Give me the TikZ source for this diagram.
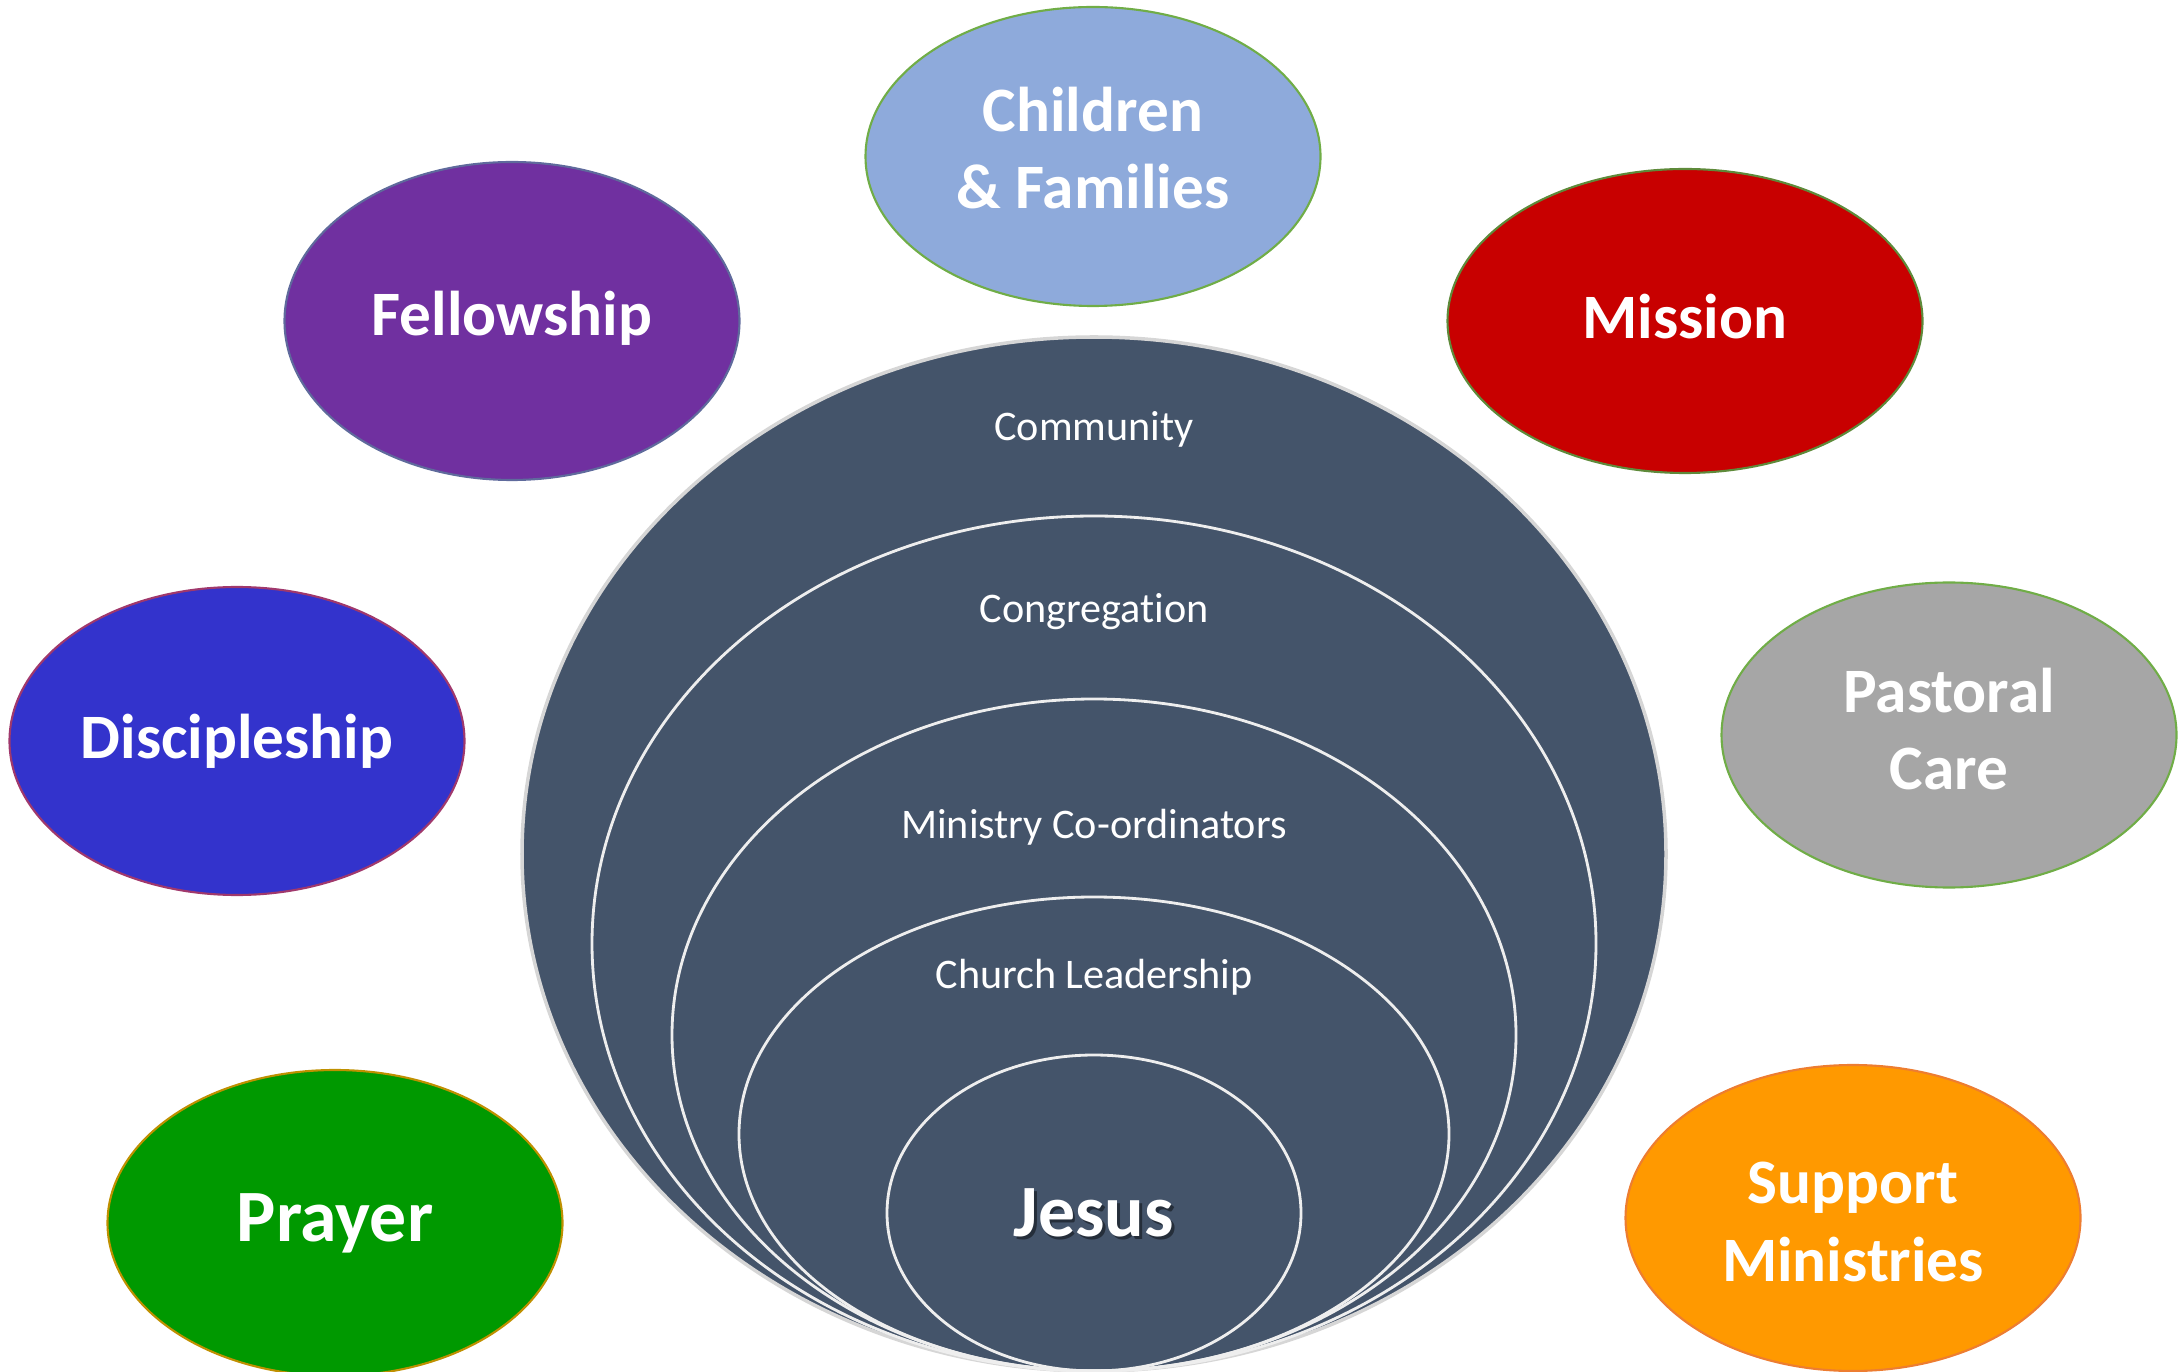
\documentclass[tikz,border=0pt]{standalone}
\usepackage{fontspec}
\setmainfont{Carlito}[Ligatures=NoCommon]
\usetikzlibrary{shapes.geometric}

\definecolor{slate}{HTML}{44546A}
\definecolor{ringline}{HTML}{EEEEEE}
\definecolor{rimline}{HTML}{D6D6D6}
\definecolor{childfill}{HTML}{8EAADB}
\definecolor{leafgreen}{HTML}{70AD47}
\definecolor{fellowfill}{HTML}{7030A0}
\definecolor{fellowline}{HTML}{5F6A9C}
\definecolor{missionfill}{HTML}{C80000}
\definecolor{missionline}{HTML}{5E8A3A}
\definecolor{discfill}{HTML}{3333CC}
\definecolor{discline}{HTML}{A0386C}
\definecolor{carefill}{HTML}{A6A6A6}
\definecolor{prayerfill}{HTML}{009900}
\definecolor{prayerline}{HTML}{BF9000}
\definecolor{supportfill}{HTML}{FF9900}
\definecolor{supportline}{HTML}{ED7D31}

\begin{document}
\begin{tikzpicture}[
    bubble/.style={ellipse, inner sep=0pt, minimum width=4.55cm, line width=0.6pt},
    tag/.style={text=white, align=center, font=\fontsize{18}{22}\selectfont\bfseries},
    ring/.style={draw=ringline, line width=0.8pt},
    layer/.style={text=white, font=\fontsize{12}{14}\selectfont}]
\useasboundingbox (0,0) rectangle (21.82,-13.72);

% stacked circles, all touching at the bottom
\fill[slate] (10.94,-8.54) ellipse [x radius=5.72, y radius=5.17];
\draw[rimline, line width=1pt] (10.94,-8.54) ellipse [x radius=5.72, y radius=5.17];
\draw[ring] (10.94,-9.435) ellipse [x radius=5.02, y radius=4.275];
\draw[ring] (10.94,-10.35) ellipse [x radius=4.22, y radius=3.36];
\draw[ring] (10.94,-11.34) ellipse [x radius=3.55, y radius=2.37];
\draw[ring] (10.94,-12.13) ellipse [x radius=2.07, y radius=1.58];

\node[layer] (community) at (10.94,-4.29) {Community};
\node[layer] (congregation) at (10.94,-6.12) {Congregation};
\node[layer] (coordinators) at (10.94,-8.27) {Ministry Co-ordinators};
\node[layer] (leadership) at (10.94,-9.77) {Church Leadership};
\node[text=black, opacity=0.45, font=\fontsize{21}{25}\selectfont\bfseries] (jesusshadow) at (10.965,-12.155) {Jesus};
\node[text=white, font=\fontsize{21}{25}\selectfont\bfseries] (jesus) at (10.94,-12.13) {Jesus};

% ministry areas round the outside
\node[bubble, fill=childfill, draw=leafgreen, minimum height=2.99cm] (children) at (10.93,-1.565) {};
\node[bubble, fill=fellowfill, draw=fellowline, minimum height=3.18cm] (fellowship) at (5.12,-3.21) {};
\node[bubble, fill=missionfill, draw=missionline, minimum width=4.75cm, minimum height=3.04cm] (mission) at (16.85,-3.21) {};
\node[bubble, fill=discfill, draw=discline, minimum height=3.08cm] (discipleship) at (2.37,-7.41) {};
\node[bubble, fill=carefill, draw=leafgreen, minimum height=3.05cm] (pastoral) at (19.49,-7.35) {};
\node[bubble, fill=prayerfill, draw=prayerline, minimum height=3.06cm] (prayer) at (3.35,-12.23) {};
\node[bubble, fill=supportfill, draw=supportline, minimum height=3.06cm] (support) at (18.53,-12.18) {};

\node[tag] (childrentag) at ([yshift=0.85mm]children) {Children\\\& Families};
\node[tag] (fellowshiptag) at ([yshift=0.3mm]fellowship) {Fellowship};
\node[tag] (missiontag) at ([yshift=0.4mm]mission) {Mission};
\node[tag] (discipleshiptag) at (discipleship) {Discipleship};
\node[tag] (pastoraltag) at ([yshift=0.6mm]pastoral) {Pastoral\\Care};
\node[tag, font=\fontsize{21}{25}\selectfont\bfseries] (prayertag) at (prayer) {Prayer};
\node[tag] (supporttag) at ([yshift=-0.4mm]support) {Support\\Ministries};

\end{tikzpicture}
\end{document}
